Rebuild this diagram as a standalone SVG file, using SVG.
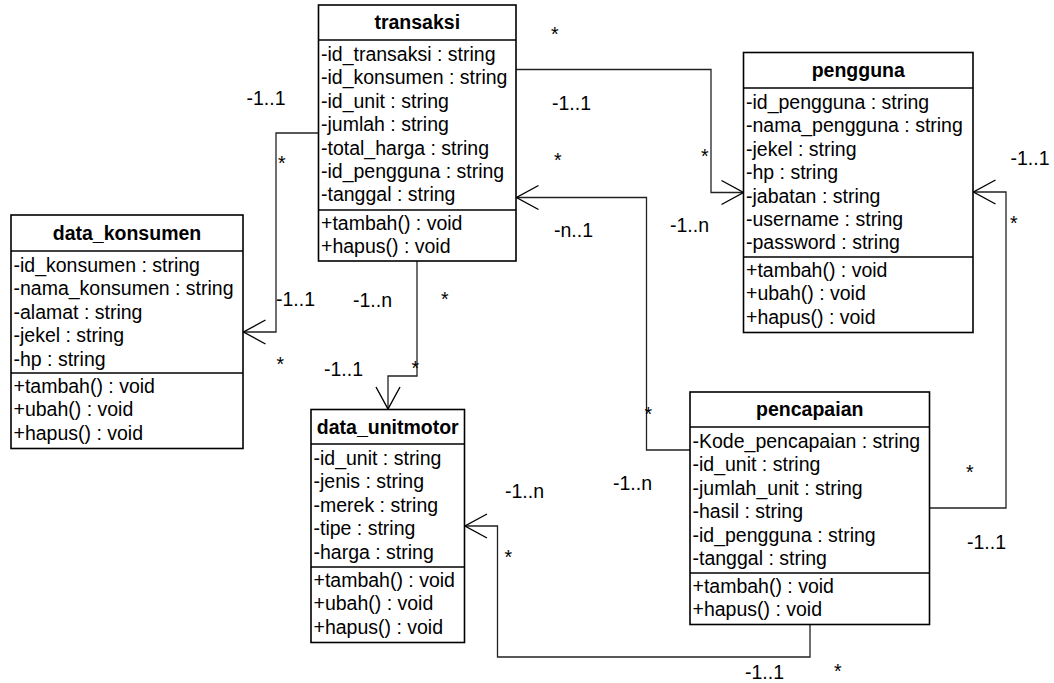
<svg xmlns="http://www.w3.org/2000/svg" width="1054" height="683" viewBox="0 0 1054 683">
  <style>
    .box { fill: #fff; stroke: #000; stroke-width: 1.6; }
    .sep { stroke: #000; stroke-width: 1.6; }
    .t { font-family: "Liberation Sans", Arial, sans-serif; font-size: 19.5px; fill: #000; }
    .title { font-weight: bold; text-anchor: middle; }
    .conn { fill: none; stroke: #222; stroke-width: 1.3; marker-end: url(#open); }
    .lbl { font-family: "Liberation Sans", Arial, sans-serif; font-size: 19.5px; fill: #000; }
  </style>
  <defs>
    <marker id="open" viewBox="-24 -14 26 28" refX="0" refY="0" markerWidth="26" markerHeight="28" markerUnits="userSpaceOnUse" orient="auto" overflow="visible">
      <path d="M-22,-12 L0,0 L-22,12" fill="none" stroke="#000" stroke-width="1.4"/>
    </marker>
  </defs>
  <rect width="1054" height="683" fill="#fff"/>

  <!-- associations -->
  <g id="connectors">
    <path class="conn" d="M318.5,133 H276 V332 H243.5"/>
    <path class="conn" d="M516,69.5 H711 V192.5 H743.5"/>
    <path class="conn" d="M690,450 H646.5 V197.5 H516.5"/>
    <path class="conn" d="M417,261 V376 H388 V409"/>
    <path class="conn" d="M810,624.5 V657 H497.5 V526 H465"/>
    <path class="conn" d="M929.5,508 H1006 V192 H973.5"/>
  </g>

  <!-- multiplicities -->
  <g id="labels" class="lbl">
    <text x="246.5" y="105">-1..1</text>
    <text x="278" y="170">*</text>
    <text x="276" y="305.5">-1..1</text>
    <text x="276.5" y="371">*</text>
    <text x="551" y="41">*</text>
    <text x="552" y="109.5">-1..1</text>
    <text x="701" y="162.5">*</text>
    <text x="670" y="231.5">-1..n</text>
    <text x="554" y="167">*</text>
    <text x="554" y="236.5">-n..1</text>
    <text x="644.5" y="421">*</text>
    <text x="613" y="490">-1..n</text>
    <text x="353" y="306.5">-1..n</text>
    <text x="441" y="306">*</text>
    <text x="324" y="376">-1..1</text>
    <text x="411.5" y="375">*</text>
    <text x="505" y="498">-1..n</text>
    <text x="504.5" y="564">*</text>
    <text x="745" y="679">-1..1</text>
    <text x="834" y="677.5">*</text>
    <text x="1010.5" y="164.5">-1..1</text>
    <text x="1010" y="230">*</text>
    <text x="966" y="479">*</text>
    <text x="967" y="548.5">-1..1</text>
  </g>

  <!-- class: transaksi -->
  <g id="transaksi">
    <rect class="box" x="318.5" y="5" width="197.5" height="256"/>
    <line class="sep" x1="318.5" y1="40" x2="516" y2="40"/>
    <line class="sep" x1="318.5" y1="210" x2="516" y2="210"/>
    <text class="t title" x="417.25" y="29">transaksi</text>
    <text class="t" x="321" y="61">-id_transaksi : string</text>
    <text class="t" x="321" y="84.4">-id_konsumen : string</text>
    <text class="t" x="321" y="107.8">-id_unit : string</text>
    <text class="t" x="321" y="131.2">-jumlah : string</text>
    <text class="t" x="321" y="154.6">-total_harga : string</text>
    <text class="t" x="321" y="178">-id_pengguna : string</text>
    <text class="t" x="321" y="201.4">-tanggal : string</text>
    <text class="t" x="321" y="230">+tambah() : void</text>
    <text class="t" x="321" y="253.4">+hapus() : void</text>
  </g>

  <!-- class: pengguna -->
  <g id="pengguna">
    <rect class="box" x="743.5" y="52.5" width="229.5" height="280"/>
    <line class="sep" x1="743.5" y1="88" x2="973" y2="88"/>
    <line class="sep" x1="743.5" y1="257" x2="973" y2="257"/>
    <text class="t title" x="858.25" y="77">pengguna</text>
    <text class="t" x="746" y="109">-id_pengguna : string</text>
    <text class="t" x="746" y="132.4">-nama_pengguna : string</text>
    <text class="t" x="746" y="155.8">-jekel : string</text>
    <text class="t" x="746" y="179.2">-hp : string</text>
    <text class="t" x="746" y="202.6">-jabatan : string</text>
    <text class="t" x="746" y="226">-username : string</text>
    <text class="t" x="746" y="249.4">-password : string</text>
    <text class="t" x="746" y="277">+tambah() : void</text>
    <text class="t" x="746" y="300.4">+ubah() : void</text>
    <text class="t" x="746" y="323.8">+hapus() : void</text>
  </g>

  <!-- class: data_konsumen -->
  <g id="data_konsumen">
    <rect class="box" x="11" y="215" width="232" height="233.5"/>
    <line class="sep" x1="11" y1="251" x2="243" y2="251"/>
    <line class="sep" x1="11" y1="373" x2="243" y2="373"/>
    <text class="t title" x="127" y="240">data_konsumen</text>
    <text class="t" x="13.5" y="272">-id_konsumen : string</text>
    <text class="t" x="13.5" y="295.4">-nama_konsumen : string</text>
    <text class="t" x="13.5" y="318.8">-alamat : string</text>
    <text class="t" x="13.5" y="342.2">-jekel : string</text>
    <text class="t" x="13.5" y="365.6">-hp : string</text>
    <text class="t" x="13.5" y="393">+tambah() : void</text>
    <text class="t" x="13.5" y="416.4">+ubah() : void</text>
    <text class="t" x="13.5" y="439.8">+hapus() : void</text>
  </g>

  <!-- class: data_unitmotor -->
  <g id="data_unitmotor">
    <rect class="box" x="311" y="409.5" width="153.5" height="233"/>
    <line class="sep" x1="311" y1="444" x2="464.5" y2="444"/>
    <line class="sep" x1="311" y1="567" x2="464.5" y2="567"/>
    <text class="t title" x="387.75" y="434">data_unitmotor</text>
    <text class="t" x="313.5" y="465">-id_unit : string</text>
    <text class="t" x="313.5" y="488.4">-jenis : string</text>
    <text class="t" x="313.5" y="511.8">-merek : string</text>
    <text class="t" x="313.5" y="535.2">-tipe : string</text>
    <text class="t" x="313.5" y="558.6">-harga : string</text>
    <text class="t" x="313.5" y="587">+tambah() : void</text>
    <text class="t" x="313.5" y="610.4">+ubah() : void</text>
    <text class="t" x="313.5" y="633.8">+hapus() : void</text>
  </g>

  <!-- class: pencapaian -->
  <g id="pencapaian">
    <rect class="box" x="690" y="392" width="239.5" height="232.5"/>
    <line class="sep" x1="690" y1="427" x2="929.5" y2="427"/>
    <line class="sep" x1="690" y1="573" x2="929.5" y2="573"/>
    <text class="t title" x="809.75" y="416">pencapaian</text>
    <text class="t" x="692.5" y="448">-Kode_pencapaian : string</text>
    <text class="t" x="692.5" y="471.4">-id_unit : string</text>
    <text class="t" x="692.5" y="494.8">-jumlah_unit : string</text>
    <text class="t" x="692.5" y="518.2">-hasil : string</text>
    <text class="t" x="692.5" y="541.6">-id_pengguna : string</text>
    <text class="t" x="692.5" y="565">-tanggal : string</text>
    <text class="t" x="692.5" y="593">+tambah() : void</text>
    <text class="t" x="692.5" y="616.4">+hapus() : void</text>
  </g>
</svg>
